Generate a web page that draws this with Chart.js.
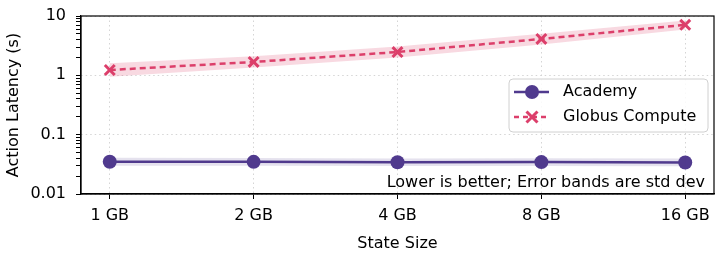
<!DOCTYPE html>
<html>
<head>
<meta charset="utf-8">
<script src="https://cdn.jsdelivr.net/npm/chart.js@4"></script>
<style>
  html, body { margin: 0; padding: 0; background: #fff; }
  #wrap { width: 718px; height: 263px; }
</style>
</head>
<body>
<div id="wrap"><canvas id="latencyChart" width="718" height="263"></canvas></div>
<script>
const stateSizes = ["1 GB", "2 GB", "4 GB", "8 GB", "16 GB"];
const academyMean = [0.035, 0.0348, 0.0342, 0.0345, 0.0340];
const academyLow = [0.030, 0.030, 0.0295, 0.0297, 0.0293];
const academyHigh = [0.041, 0.0405, 0.0398, 0.0402, 0.0396];
const globusMean = [1.23, 1.68, 2.47, 4.1, 7.1];
const globusLow = [0.95, 1.35, 2.0, 3.3, 5.9];
const globusHigh = [1.6, 2.1, 3.05, 5.0, 8.4];
const yMajor = [0.01, 0.1, 1, 10];

const FONT = "'DejaVu Sans', sans-serif";
const FS = 16;
const academyColor = "#503a8e";
const globusColor = "#dc3f6b";

function pts(arr) {
    return arr.map((v, i) => ({ x: i, y: v }));
}

// frame, legend and note drawn on top
const extras = {
    id: "extras",
    afterDraw(chart) {
        const ctx = chart.ctx;
        const a = chart.chartArea;
        ctx.save();
        ctx.strokeStyle = "#000";
        ctx.lineWidth = 1.2;
        ctx.strokeRect(a.left, a.top, a.right - a.left, a.bottom - a.top);

        // note
        ctx.font = FS + "px " + FONT;
        ctx.fillStyle = "#000";
        ctx.textAlign = "right";
        ctx.textBaseline = "middle";
        ctx.fillText("Lower is better; Error bands are std dev", a.right - 9, a.bottom - 11);

        // legend box
        const bx = a.right - 205, by = a.top + 63, bw = 199, bh = 53;
        ctx.beginPath();
        ctx.roundRect(bx, by, bw, bh, 4);
        ctx.fillStyle = "rgba(255,255,255,0.85)";
        ctx.fill();
        ctx.strokeStyle = "#d0d0d0";
        ctx.lineWidth = 1;
        ctx.stroke();

        const rows = [
            { label: "Academy", color: academyColor, dash: [], marker: "circle" },
            { label: "Globus Compute", color: globusColor, dash: [5, 4], marker: "x" }
        ];
        rows.forEach((r, i) => {
            const cy = by + 13 + i * 25;
            const x0 = bx + 5, x1 = bx + 40, mx = bx + 23;
            ctx.strokeStyle = r.color;
            ctx.lineWidth = 2.5;
            ctx.setLineDash(r.dash);
            ctx.beginPath();
            ctx.moveTo(x0, cy);
            ctx.lineTo(x1, cy);
            ctx.stroke();
            ctx.setLineDash([]);
            if (r.marker === "circle") {
                ctx.fillStyle = r.color;
                ctx.beginPath();
                ctx.arc(mx, cy, 7, 0, Math.PI * 2);
                ctx.fill();
            } else {
                ctx.lineWidth = 3;
                ctx.beginPath();
                ctx.moveTo(mx - 5.5, cy - 5.5); ctx.lineTo(mx + 5.5, cy + 5.5);
                ctx.moveTo(mx + 5.5, cy - 5.5); ctx.lineTo(mx - 5.5, cy + 5.5);
                ctx.stroke();
            }
            ctx.fillStyle = "#000";
            ctx.textAlign = "left";
            ctx.font = FS + "px " + FONT;
            ctx.fillText(r.label, bx + 54, cy);
        });
        ctx.restore();
    }
};

const ctx = document.getElementById("latencyChart").getContext("2d");

new Chart(ctx, {
    type: "line",
    data: {
        datasets: [
            { data: pts(academyHigh), borderWidth: 0, pointRadius: 0, fill: false, backgroundColor: "rgba(80,58,142,0.15)" },
            { data: pts(academyLow), borderWidth: 0, pointRadius: 0, fill: "-1", backgroundColor: "rgba(80,58,142,0.15)" },
            { data: pts(globusHigh), borderWidth: 0, pointRadius: 0, fill: false, backgroundColor: "rgba(220,63,107,0.2)" },
            { data: pts(globusLow), borderWidth: 0, pointRadius: 0, fill: "-1", backgroundColor: "rgba(220,63,107,0.2)" },
            {
                label: "Academy",
                data: pts(academyMean),
                borderColor: academyColor,
                backgroundColor: academyColor,
                borderWidth: 2.5,
                pointStyle: "circle",
                pointRadius: 7,
                pointBorderWidth: 0,
                fill: false
            },
            {
                label: "Globus Compute",
                data: pts(globusMean),
                borderColor: globusColor,
                backgroundColor: globusColor,
                borderWidth: 2.5,
                borderDash: [6, 4],
                pointStyle: "crossRot",
                pointRadius: 7,
                pointBorderWidth: 3,
                fill: false
            }
        ]
    },
    options: {
        responsive: false,
        animation: false,
        layout: { autoPadding: false, padding: { top: 16, right: 4, left: 0, bottom: 0 } },
        plugins: {
            legend: { display: false },
            tooltip: { enabled: false }
        },
        scales: {
            x: {
                type: "linear",
                min: -0.2,
                max: 4.2,
                afterBuildTicks: (scale) => {
                    scale.ticks = stateSizes.map((s, i) => ({ value: i }));
                },
                afterFit: (scale) => {
                    scale.height = 69;
                    scale.paddingLeft = 0;
                    scale.paddingRight = 0;
                },
                ticks: {
                    autoSkip: false,
                    maxRotation: 0,
                    color: "#000",
                    padding: 7,
                    font: { family: FONT, size: FS },
                    callback: (v) => stateSizes[v]
                },
                grid: { color: "#d5d5d5", tickColor: "#000", tickLength: 5, lineWidth: 1 },
                border: { display: true, color: "#000", width: 1.2, dash: [1.5, 3] },
                title: { display: true, text: "State Size", color: "#000", font: { family: FONT, size: FS }, padding: { top: 0, bottom: 10 } }
            },
            y: {
                type: "logarithmic",
                min: 0.01,
                max: 10,
                afterBuildTicks: (scale) => {
                    const t = [];
                    [0.01, 0.1, 1].forEach(d => {
                        for (let k = 1; k < 10; k++) t.push({ value: +(d * k).toPrecision(3) });
                    });
                    t.push({ value: 10 });
                    scale.ticks = t;
                },
                afterFit: (scale) => {
                    scale.width = 81;
                    scale.paddingTop = 0;
                    scale.paddingBottom = 0;
                },
                ticks: {
                    autoSkip: false,
                    color: "#000",
                    padding: 10,
                    font: { family: FONT, size: FS },
                    callback: (v) => yMajor.includes(v) ? String(v) : ""
                },
                grid: {
                    color: (c) => yMajor.includes(c.tick && c.tick.value) ? "#d5d5d5" : "rgba(0,0,0,0)",
                    tickColor: "#000",
                    tickLength: 5,
                    lineWidth: 1
                },
                border: { display: true, color: "#000", width: 1.2, dash: [1.5, 3] },
                title: { display: true, text: "Action Latency (s)", color: "#000", font: { family: FONT, size: FS }, padding: { top: 4, bottom: 0 } }
            }
        }
    },
    plugins: [extras]
});
</script>
</body>
</html>
